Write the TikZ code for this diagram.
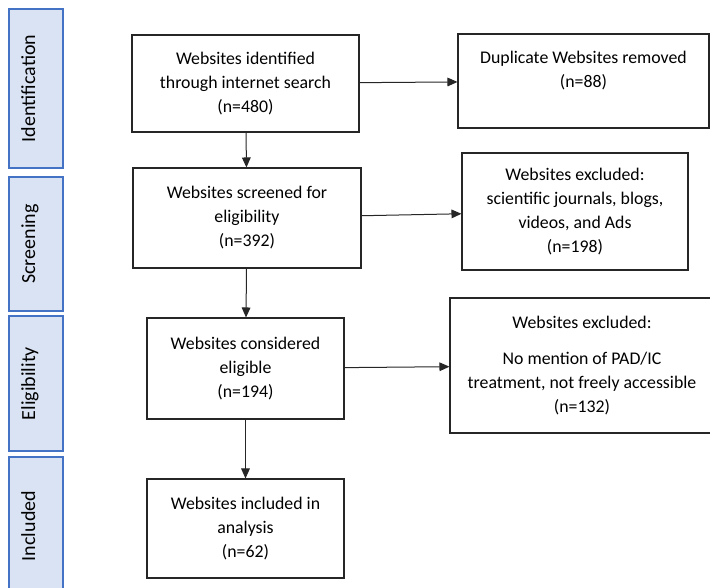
\documentclass[tikz,border=0pt]{standalone}
\usepackage{fontspec}
\setmainfont{Carlito}
\usetikzlibrary{arrows.meta}
\definecolor{phaseblue}{RGB}{68,114,196}
\definecolor{phasefill}{RGB}{218,227,243}

\begin{document}
\begin{tikzpicture}[x=0.75pt, y=-0.75pt, font=\fontsize{13.35pt}{18pt}\selectfont,
  box/.style={draw=black!85, line width=0.8pt, align=center, inner sep=0pt},
  phase/.style={draw=phaseblue, fill=phasefill, line width=1.5pt, rotate=90,
    font=\fontsize{15pt}{18pt}\selectfont,
    minimum height=40.5pt, text height=9.7pt, text depth=11pt, inner sep=0pt},
  flow/.style={draw=black!85, line width=0.75pt, -{Triangle[length=7.5pt,width=6.5pt]}}]
\clip (0,0) rectangle (710,587);
% --- phase bars on the left ---
\node[phase, minimum width=119.25pt] (idbar)   at (36,88.5)  {Identification};
\node[phase, minimum width=100.5pt]  (scrbar)  at (36,244)   {Screening};
\node[phase, minimum width=101.25pt] (eligbar) at (36,383.5) {Eligibility};
\node[phase, minimum width=103.5pt]  (incbar)  at (36,526)   {Included};
% --- main flow ---
\node[box, minimum width=170.25pt, minimum height=72.75pt] (id) at (245.5,83.5)
  {Websites identified\\through internet search\\(n=480)};
\node[box, minimum width=171pt, minimum height=75pt] (scr) at (247,218)
  {Websites screened for\\eligibility\\(n=392)};
\node[box, minimum width=147.75pt, minimum height=75.75pt] (elig) at (245.5,368.5)
  {Websites considered\\eligible\\(n=194)};
\node[box, minimum width=147.75pt, minimum height=74.25pt] (inc) at (245.5,528.5)
  {Websites included in\\analysis\\(n=62)};
% --- removed / excluded ---
\node[box, minimum width=188.25pt, minimum height=70.5pt] (dup) at (583.5,81)
  {Duplicate Websites removed\\(n=88)\\~};
\node[box, minimum width=169.5pt, minimum height=87.75pt] (exc1) at (575,211.5)
  {Websites excluded:\\scientific journals, blogs,\\videos, and Ads\\(n=198)};
\node[box, minimum width=198pt, minimum height=101.25pt] (exc2) at (582,365.5)
  {Websites excluded:\\[9.5pt]No mention of PAD/IC\\treatment, not freely accessible\\(n=132)};
% --- arrows ---
\draw[flow] (id) -- (dup);
\draw[flow] (id) -- (scr);
\draw[flow] (scr) -- (exc1);
\draw[flow] (scr) -- (elig);
\draw[flow] (elig) -- (exc2);
\draw[flow] (elig) -- (inc);
\end{tikzpicture}
\end{document}
